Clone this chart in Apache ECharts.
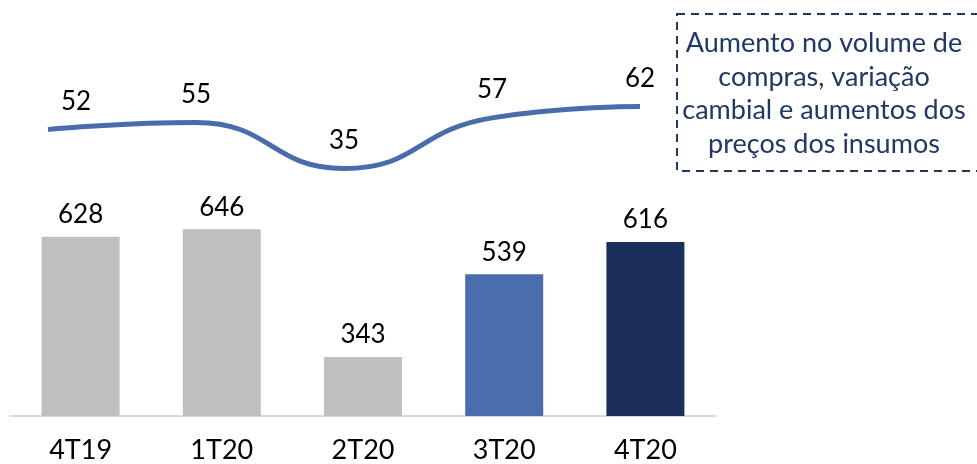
<!DOCTYPE html>
<html>
<head>
<meta charset="utf-8">
<script src="https://cdn.jsdelivr.net/npm/echarts@6/dist/echarts.min.js"></script>
<style>html,body{margin:0;padding:0;background:#fff}#c{width:977px;height:464px}</style>
</head>
<body>
<div id="c"></div>
<script>
var categories = ['4T19', '1T20', '2T20', '3T20', '4T20'];
var barValues = [628, 646, 343, 539, 616];
var lineValues = [52, 55, 35, 57, 62];
var barColors = ['#bfbfbf', '#bfbfbf', '#bfbfbf', '#4a6cad', '#1b2f5c'];
var noteLines = ['Aumento no volume de', 'compras, variação', 'cambial e aumentos dos', 'preços dos insumos'];

var FONT = 'Lato, "Noto Sans", sans-serif';
var chart = echarts.init(document.getElementById('c'));
chart.setOption({
  animation: false,
  grid: [
    {left: 10, width: 706, top: 80, bottom: 48},
    {left: 48, width: 592, top: 88, height: 115}
  ],
  xAxis: [
    {type: 'category', gridIndex: 0, data: categories,
     axisLine: {lineStyle: {color: '#d9d9d9', width: 2}},
     axisTick: {show: false},
     axisLabel: {color: '#000', fontSize: 27, fontFamily: FONT, margin: 21}},
    {type: 'category', gridIndex: 1, data: categories, boundaryGap: false, show: false}
  ],
  yAxis: [
    {type: 'value', gridIndex: 0, min: 203, max: 1000, show: false, splitLine: {show: false}},
    {type: 'value', gridIndex: 1, min: 20, max: 70, show: false, splitLine: {show: false}}
  ],
  series: [
    {type: 'bar', xAxisIndex: 0, yAxisIndex: 0, barWidth: 78,
     data: barValues.map(function (v, i) { return {value: v, itemStyle: {color: barColors[i]}}; }),
     label: {show: true, position: 'top', distance: 9, color: '#000', fontSize: 26, fontFamily: FONT}},
    {type: 'line', xAxisIndex: 1, yAxisIndex: 1, smooth: 0.5, symbol: 'circle', symbolSize: 2,
     showSymbol: true, itemStyle: {color: 'rgba(0,0,0,0)', borderWidth: 0},
     lineStyle: {color: '#4a6cad', width: 5},
     data: lineValues.map(function (v, i) {
       return {value: v, label: {offset: i === 0 ? [28, 0] : [0, 0]}};
     }),
     label: {show: true, position: 'top', distance: 14, color: '#000', fontSize: 26, fontFamily: FONT}}
  ],
  graphic: [
    {type: 'rect', shape: {x: 677, y: 14, width: 320, height: 157},
     style: {fill: 'none', stroke: '#1f3864', lineWidth: 2, lineDash: [8, 6]}},
    {type: 'text', x: 824, y: 94,
     style: {text: noteLines.join('\n'), fill: '#1f3864', fontSize: 27, fontFamily: FONT,
             lineHeight: 33.5, align: 'center', verticalAlign: 'middle'}}
  ]
});
</script>
</body>
</html>
